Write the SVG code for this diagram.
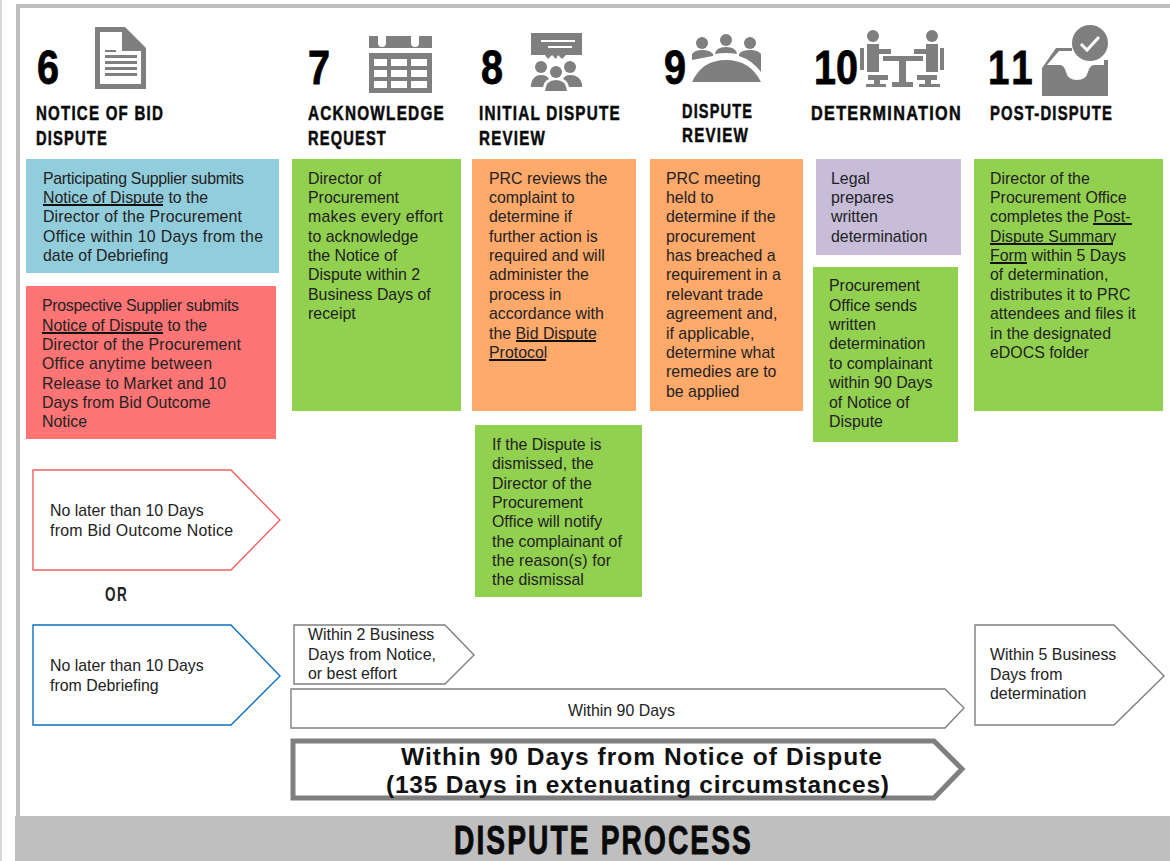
<svg xmlns="http://www.w3.org/2000/svg" width="1170" height="861" viewBox="0 0 1170 861">
<defs><filter id="soft" x="-5%" y="-5%" width="110%" height="110%"><feGaussianBlur stdDeviation="0.5"/></filter></defs>
<style>
.b{font-family:"Liberation Sans",Arial,sans-serif;font-size:15.9px;fill:#222}
.h{font-family:"Liberation Sans",Arial,sans-serif;font-weight:700;font-size:20px;letter-spacing:1.6px;fill:#0a0a0a;stroke:#0a0a0a;stroke-width:.5}
.n{font-family:"Liberation Sans",Arial,sans-serif;font-weight:700;font-size:48px;fill:#000;stroke:#000;stroke-width:.8}
.u{stroke:#111;stroke-width:2.2}
.i{fill:#7f7f7f}
.w{fill:#fff}
.p{fill:#fff;stroke:#7f7f7f;stroke-width:1.4}
</style>
<rect width="1170" height="861" fill="#fff"/>
<g id="frame">
<path d="M18 816V6H1170" fill="none" stroke="#bfbfbf" stroke-width="4"/>
<path d="M1 0V861" stroke="#d9d9d9" stroke-width="2"/>
<rect x="15" y="816" width="1155" height="45" fill="#bfbfbf"/>
<text x="454" y="854" textLength="299" lengthAdjust="spacingAndGlyphs" font-family="'Liberation Sans',sans-serif" font-weight="700" font-size="40" letter-spacing="3" fill="#0a0a0a" stroke="#0a0a0a" stroke-width=".9">DISPUTE PROCESS</text>
</g>
<g id="step6">
<text class="n" x="37" y="84" textLength="22" lengthAdjust="spacingAndGlyphs">6</text>
<g filter="url(#soft)"><path class="i" d="M95 27H125L146 48V89H95ZM100 32V84H141V51H122V32Z"/>
<path class="i" d="M105 50H116V52H105ZM105 55H137V58H105ZM105 61H137V64H105ZM105 67H137V70H105ZM105 73H137V76H105Z"/></g>
<text class="h" x="36" y="120" textLength="128" lengthAdjust="spacingAndGlyphs">NOTICE OF BID</text><text class="h" x="36" y="145" textLength="72" lengthAdjust="spacingAndGlyphs">DISPUTE</text>
<rect x="26" y="159" width="253" height="114" fill="#92cddc"/>
<text class="b"><tspan x="43" y="184" textLength="201">Participating Supplier submits</tspan><tspan x="43" y="203">Notice of Dispute to the</tspan><tspan x="43" y="222" textLength="199">Director of the Procurement</tspan><tspan x="43" y="242" textLength="220">Office within 10 Days from the</tspan><tspan x="43" y="261">date of Debriefing</tspan></text>
<path class="u" d="M43 205H163"/>
<rect x="26" y="286" width="250" height="153" fill="#ff7575"/>
<text class="b"><tspan x="42" y="311" textLength="197">Prospective Supplier submits</tspan><tspan x="42" y="331">Notice of Dispute to the</tspan><tspan x="42" y="350" textLength="199">Director of the Procurement</tspan><tspan x="42" y="369" textLength="170">Office anytime between</tspan><tspan x="42" y="389" textLength="184">Release to Market and 10</tspan><tspan x="42" y="408">Days from Bid Outcome</tspan><tspan x="42" y="427">Notice</tspan></text>
<path class="u" d="M42 333H163"/>
<path d="M33 470H231L280 520L231 570H33Z" fill="#fff" stroke="#f0615f" stroke-width="1.4"/>
<text class="b"><tspan x="50" y="516">No later than 10 Days</tspan><tspan x="50" y="536" textLength="183">from Bid Outcome Notice</tspan></text>
<text x="105" y="601" textLength="23" lengthAdjust="spacingAndGlyphs" font-family="'Liberation Sans',sans-serif" font-weight="700" font-size="20" letter-spacing="2" fill="#222">OR</text>
<path d="M33 625H231L280 676L231 725H33Z" fill="#fff" stroke="#0a70c0" stroke-width="1.4"/>
<text class="b"><tspan x="50" y="671">No later than 10 Days</tspan><tspan x="50" y="691">from Debriefing</tspan></text>
</g>
<g id="step7">
<text class="n" x="308" y="84" textLength="22" lengthAdjust="spacingAndGlyphs">7</text>
<g filter="url(#soft)"><path class="i" d="M369 36H378V43A4 4 0 0 0 386 43V36H411V43A4 4 0 0 0 419 43V36H432V48H369ZM369 53H432V93H369Z"/>
<path class="w" d="M374 59H387V66H374ZM391 59H407V66H391ZM411 59H427V66H411ZM374 70H387V77H374ZM391 70H407V77H391ZM411 70H427V77H411ZM374 81H387V88H374ZM391 81H407V88H391ZM411 81H427V88H411Z"/></g>
<text class="h" x="308" y="120" textLength="137" lengthAdjust="spacingAndGlyphs">ACKNOWLEDGE</text><text class="h" x="308" y="145" textLength="79" lengthAdjust="spacingAndGlyphs">REQUEST</text>
<rect x="292" y="159" width="169" height="252" fill="#92d050"/>
<text class="b"><tspan x="308" y="184">Director of</tspan><tspan x="308" y="203">Procurement</tspan><tspan x="308" y="222" textLength="135">makes every effort</tspan><tspan x="308" y="242">to acknowledge</tspan><tspan x="308" y="261">the Notice of</tspan><tspan x="308" y="280">Dispute within 2</tspan><tspan x="308" y="300">Business Days of</tspan><tspan x="308" y="319">receipt</tspan></text>
<path class="p" d="M294 625H445L474 655L445 684H294Z"/>
<text class="b"><tspan x="308" y="640">Within 2 Business</tspan><tspan x="308" y="660" textLength="128">Days from Notice,</tspan><tspan x="308" y="679">or best effort</tspan></text>
</g>
<g id="step8">
<text class="n" x="481" y="84" textLength="22" lengthAdjust="spacingAndGlyphs">8</text>
<g filter="url(#soft)"><path class="i" d="M531 33H582V55H566L562 59L558 55L556 59L552 55L548 59L545 55H531Z"/>
<path class="w" d="M541 40H575V42H541ZM548 46H572V48H548Z"/>
<circle class="i" cx="541" cy="67" r="6"/><circle class="i" cx="570" cy="67" r="6"/><circle class="i" cx="556" cy="72" r="6"/>
<path class="i" d="M531 84Q533 75 541 75Q547 75 549 79Q544 81 543 87H531ZM582 84Q580 75 570 75Q565 75 563 79Q568 81 569 87H582ZM545 91Q546 80 556 80Q566 80 567 91Z"/></g>
<text class="h" x="479" y="120" textLength="142" lengthAdjust="spacingAndGlyphs">INITIAL DISPUTE</text><text class="h" x="479" y="145" textLength="67" lengthAdjust="spacingAndGlyphs">REVIEW</text>
<rect x="472" y="159" width="164" height="252" fill="#ffa96b"/>
<text class="b"><tspan x="489" y="184">PRC reviews the</tspan><tspan x="489" y="203">complaint to</tspan><tspan x="489" y="222">determine if</tspan><tspan x="489" y="242">further action is</tspan><tspan x="489" y="261">required  and will</tspan><tspan x="489" y="280">administer the</tspan><tspan x="489" y="300">process in</tspan><tspan x="489" y="319">accordance with</tspan><tspan x="489" y="339">the Bid Dispute</tspan><tspan x="489" y="358">Protocol</tspan></text>
<path class="u" d="M516 341H596M489 360H546"/>
<rect x="475" y="425" width="167" height="172" fill="#92d050"/>
<text class="b"><tspan x="492" y="450">If the Dispute is</tspan><tspan x="492" y="469">dismissed, the</tspan><tspan x="492" y="489">Director of the</tspan><tspan x="492" y="508">Procurement</tspan><tspan x="492" y="527">Office will notify</tspan><tspan x="492" y="547">the complainant of</tspan><tspan x="492" y="566" textLength="119">the reason(s) for</tspan><tspan x="492" y="585">the dismissal</tspan></text>
</g>
<g id="step9">
<text class="n" x="664" y="84" textLength="22" lengthAdjust="spacingAndGlyphs">9</text>
<g filter="url(#soft)"><circle class="i" cx="702" cy="43" r="6"/><circle class="i" cx="726" cy="40" r="6"/><circle class="i" cx="750" cy="43" r="6"/>
<path class="i" d="M692 60V54Q695 50 702 50Q710 50 713 54V56Q702 58 692 60ZM715 54Q716 47 726 47Q736 47 737 54Q726 52 715 54ZM739 54Q742 50 750 50Q758 50 761 54V72Q752 60 739 56ZM692 82Q702 60 726 60Q750 60 761 82Z"/></g>
<text class="h" x="682" y="118" textLength="71" lengthAdjust="spacingAndGlyphs">DISPUTE</text><text class="h" x="682" y="142" textLength="67" lengthAdjust="spacingAndGlyphs">REVIEW</text>
<rect x="650" y="159" width="153" height="252" fill="#ffa96b"/>
<text class="b"><tspan x="666" y="184">PRC meeting</tspan><tspan x="666" y="203">held to</tspan><tspan x="666" y="222">determine if the</tspan><tspan x="666" y="242">procurement</tspan><tspan x="666" y="261">has breached a</tspan><tspan x="666" y="280">requirement in a</tspan><tspan x="666" y="300">relevant trade</tspan><tspan x="666" y="319">agreement and,</tspan><tspan x="666" y="339">if applicable,</tspan><tspan x="666" y="358">determine what</tspan><tspan x="666" y="377">remedies are to</tspan><tspan x="666" y="397">be applied</tspan></text>
</g>
<g id="step10">
<text class="n" x="814" y="84" textLength="44" lengthAdjust="spacingAndGlyphs">10</text>
<g filter="url(#soft)"><circle class="i" cx="873" cy="36" r="6"/><circle class="i" cx="932" cy="36" r="6"/>
<path class="i" d="M867 44H879V49H891V54H879V72H867ZM926 44H938V72H926V54H914V49H926ZM883 56H923V61H906V82H913V87H892V82H899V61H883ZM868 75H888V80H880V84H886V87H866V84H874V80H868ZM917 75H937V80H931V84H940V87H919V84H925V80H917ZM860 48H864V70H860ZM940 48H944V70H940Z"/></g>
<text class="h" x="811" y="120" textLength="151" lengthAdjust="spacingAndGlyphs">DETERMINATION</text>
<rect x="816" y="159" width="145" height="96" fill="#c7bdd9"/>
<text class="b"><tspan x="831" y="184">Legal</tspan><tspan x="831" y="203">prepares</tspan><tspan x="831" y="222">written</tspan><tspan x="831" y="242">determination</tspan></text>
<rect x="813" y="267" width="145" height="175" fill="#92d050"/>
<text class="b"><tspan x="829" y="291">Procurement</tspan><tspan x="829" y="311">Office sends</tspan><tspan x="829" y="330">written</tspan><tspan x="829" y="349">determination</tspan><tspan x="829" y="369">to complainant</tspan><tspan x="829" y="388">within 90 Days</tspan><tspan x="829" y="408">of Notice of</tspan><tspan x="829" y="427">Dispute</tspan></text>
</g>
<g id="step11">
<text class="n" transform="translate(988 84) scale(.8 1)" x="0 29">11</text>
<g filter="url(#soft)"><circle class="i" cx="1090" cy="43" r="18"/>
<path d="M1081 44L1087 50L1099 37" fill="none" stroke="#fff" stroke-width="3"/>
<path class="i" d="M1056 48H1072V51H1059L1047 65H1060Q1064 65 1066 72Q1068 80 1077 80Q1086 80 1088 72Q1090 65 1094 65H1104V60H1108V96H1042V68Z"/></g>
<text class="h" x="990" y="120" textLength="123" lengthAdjust="spacingAndGlyphs">POST-DISPUTE</text>
<rect x="974" y="159" width="189" height="252" fill="#92d050"/>
<text class="b"><tspan x="990" y="184">Director of the</tspan><tspan x="990" y="203">Procurement Office</tspan><tspan x="990" y="222">completes the Post-</tspan><tspan x="990" y="242">Dispute Summary</tspan><tspan x="990" y="261">Form within 5 Days</tspan><tspan x="990" y="280">of determination,</tspan><tspan x="990" y="300">distributes it to PRC</tspan><tspan x="990" y="319">attendees and files it</tspan><tspan x="990" y="339">in the designated</tspan><tspan x="990" y="358">eDOCS folder</tspan></text>
<path class="u" d="M1093 224H1132M990 244H1113M990 263H1027"/>
<path class="p" d="M975 625H1114L1164 676L1114 725H975Z"/>
<text class="b"><tspan x="990" y="660">Within 5 Business</tspan><tspan x="990" y="680">Days from</tspan><tspan x="990" y="699">determination</tspan></text>
</g>
<g id="connectors">
<path class="p" d="M291 689H945L964 708L945 728H291Z"/>
<text class="b" x="568" y="716">Within 90 Days</text>
<path d="M293 741H934L962 769L934 798H293Z" fill="#fff" stroke="#7f7f7f" stroke-width="5"/>
<text font-family="'Liberation Sans',Arial,sans-serif" font-weight="700" font-size="24.5" fill="#111"><tspan x="401" y="765" textLength="481">Within 90 Days from Notice of Dispute</tspan><tspan x="386" y="793" textLength="503">(135 Days in extenuating circumstances)</tspan></text>
</g>
</svg>
